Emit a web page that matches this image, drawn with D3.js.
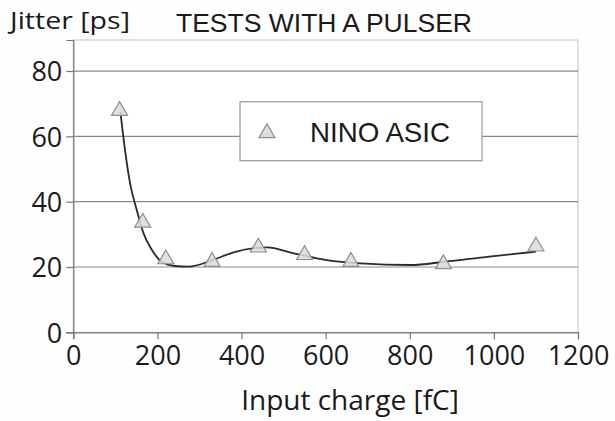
<!doctype html>
<html lang="en">

<head>
  <meta charset="utf-8">
  <title>Tests with a pulser - NINO ASIC jitter</title>

  <!-- D3.js -->
  <script src="https://d3js.org/d3.v7.min.js"></script>

  <style type="text/css">
    html,
    body {
      width: 100%;
      height: 100%;
      padding: 0;
      margin: 0;
      background: #fefefe;
    }

    svg {
      display: block;
    }

    .tick-label {
      font-family: "Open Sans", sans-serif;
      font-size: 27px;
      fill: #1a1a1a;
    }
  </style>
</head>

<body>
  <svg id="chart" width="615" height="421"></svg>

<script>
  // measured points (input charge in fC, jitter in ps)
  var charges = [110, 165, 220, 330, 440, 550, 660, 880, 1100];
  var jitter = [67.8, 33.6, 22.4, 21.6, 26.0, 23.7, 21.6, 20.9, 26.3];

  // trend curve
  var curveCharges = [112, 123, 135, 151, 167, 187, 210, 242, 274, 331, 381, 460, 524, 603, 683, 802, 883, 984, 1100];
  var curveJitter = [67.5, 55.8, 45.6, 37.4, 30.3, 25.2, 21.6, 20.3, 20.1, 22.1, 24.5, 26.0, 24.2, 22.1, 21.1, 20.6, 21.6, 23.1, 24.7];

  // axis ticks
  var xTicks = [0, 200, 400, 600, 800, 1000, 1200];
  var yTicks = [0, 20, 40, 60, 80];

  var legendLabel = "NINO ASIC";

  var plot = { left: 73.3, right: 578, top: 40, bottom: 332.3 };

  var svg = d3.select("#chart");

  var xScale = d3.scaleLinear()
    .domain([0, 1200])
    .range([plot.left, plot.right]);

  var yScale = d3.scaleLinear()
    .domain([0, 89.5])
    .range([plot.bottom, plot.top]);

  // plot frame (light top/right border)
  svg.append("rect")
    .attr("x", plot.left)
    .attr("y", plot.top)
    .attr("width", plot.right - plot.left)
    .attr("height", plot.bottom - plot.top)
    .style("fill", "#ffffff")
    .style("stroke", "#c8bccb")
    .style("stroke-width", 1);

  // horizontal gridlines
  svg.append("g")
    .selectAll("line")
    .data(yTicks.filter(function(d) { return d > 0; }))
    .enter()
    .append("line")
    .attr("x1", plot.left)
    .attr("x2", plot.right)
    .attr("y1", function(d) { return yScale(d); })
    .attr("y2", function(d) { return yScale(d); })
    .style("stroke", "#8a8a8a")
    .style("stroke-width", 1.2);

  // x axis
  var xAxis = svg.append("g")
    .attr("transform", "translate(0," + yScale(0) + ")")
    .call(d3.axisBottom(xScale).tickValues(xTicks).tickSize(7).tickPadding(6).tickFormat(d3.format("d")));

  // y axis
  var yAxis = svg.append("g")
    .attr("transform", "translate(" + plot.left + ",0)")
    .call(d3.axisLeft(yScale).tickValues(yTicks).tickSize(7).tickPadding(4));

  [xAxis, yAxis].forEach(function(ax) {
    ax.select(".domain").style("stroke", "#777").style("stroke-width", 1.2);
    ax.selectAll(".tick line").style("stroke", "#777").style("stroke-width", 1.2);
    ax.selectAll(".tick text")
      .attr("class", "tick-label")
      .style("font-size", null)
      .style("font-family", null);
    ax.attr("font-size", null).attr("font-family", null);
  });

  xAxis.selectAll(".tick text").attr("dy", "0.75em").attr("y", 12);
  yAxis.selectAll(".tick text").attr("dy", "0.36em").attr("x", -11);

  // legend box (covers the gridline behind it)
  var legend = svg.append("g");
  legend.append("rect")
    .attr("x", 240)
    .attr("y", 101.7)
    .attr("width", 242)
    .attr("height", 59)
    .style("fill", "#ffffff")
    .style("stroke", "#9a9a9a")
    .style("stroke-width", 1.2);

  legend.append("path")
    .attr("d", d3.symbol().type(d3.symbolTriangle).size(110)())
    .attr("transform", "translate(267,133)")
    .style("fill", "#dcdcdc")
    .style("stroke", "#8e8e8e")
    .style("stroke-width", 1.2);

  legend.append("text")
    .attr("x", 310)
    .attr("y", 141.7)
    .attr("textLength", 140)
    .attr("lengthAdjust", "spacingAndGlyphs")
    .style("font-family", "'Liberation Sans', Arial, sans-serif")
    .style("font-size", "27.5px")
    .style("fill", "#1a1a1a")
    .text(legendLabel);

  // smoothed trend line
  var line = d3.line()
    .x(function(d) { return xScale(d[0]); })
    .y(function(d) { return yScale(d[1]); })
    .curve(d3.curveMonotoneX);

  svg.append("path")
    .datum(d3.zip(curveCharges, curveJitter))
    .attr("d", line)
    .style("fill", "none")
    .style("stroke", "#2a2a2a")
    .style("stroke-width", 1.8);

  // data points as triangles
  svg.append("g")
    .selectAll("path")
    .data(d3.zip(charges, jitter))
    .enter()
    .append("path")
    .attr("d", d3.symbol().type(d3.symbolTriangle).size(110)())
    .attr("transform", function(d) {
      return "translate(" + xScale(d[0]) + "," + yScale(d[1]) + ")";
    })
    .style("fill", "#dcdcdc")
    .style("fill-opacity", 0.85)
    .style("stroke", "#8e8e8e")
    .style("stroke-width", 1.2);

  // y axis title
  svg.append("text")
    .attr("x", 10)
    .attr("y", 29)
    .attr("textLength", 120)
    .attr("lengthAdjust", "spacingAndGlyphs")
    .style("font-family", "'Open Sans', sans-serif")
    .style("font-size", "24px")
    .style("fill", "#1a1a1a")
    .text("Jitter [ps]");

  // chart title
  svg.append("text")
    .attr("x", 176)
    .attr("y", 32)
    .attr("textLength", 296)
    .attr("lengthAdjust", "spacingAndGlyphs")
    .style("font-family", "'Liberation Sans', Arial, sans-serif")
    .style("font-size", "26px")
    .style("fill", "#1a1a1a")
    .text("TESTS WITH A PULSER");

  // x axis title
  svg.append("text")
    .attr("x", 350)
    .attr("y", 410)
    .attr("text-anchor", "middle")
    .style("font-family", "'Open Sans', sans-serif")
    .style("font-size", "28px")
    .style("fill", "#1a1a1a")
    .text("Input charge [fC]");
</script>
</body>

</html>
